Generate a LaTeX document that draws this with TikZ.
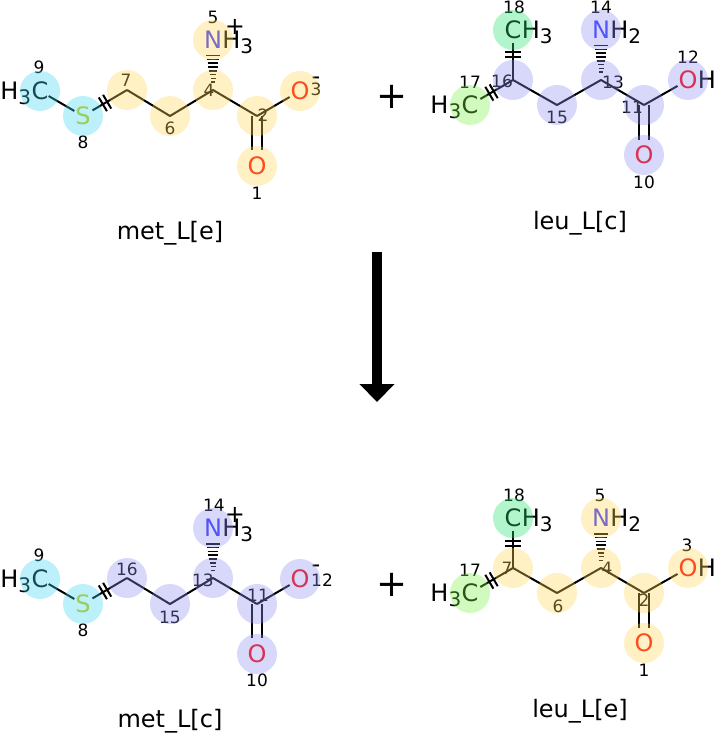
\documentclass[tikz,border=0pt]{standalone}
\usepackage{fontspec}
\setmainfont{DejaVu Sans}
\usetikzlibrary{calc,arrows.meta,decorations.markings}
\definecolor{hY}{RGB}{255,215,86}
\definecolor{hC}{RGB}{64,212,241}
\definecolor{hL}{RGB}{144,144,241}
\definecolor{hM}{RGB}{35,226,112}
\definecolor{hG}{RGB}{121,241,69}
\definecolor{cN}{RGB}{51,51,255}
\definecolor{cO}{RGB}{255,0,0}
\definecolor{cS}{RGB}{204,204,0}
\newcommand{\sbs}[1]{\raisebox{-5pt}{\fontsize{20}{20}\selectfont #1}}
\newcommand{\hashwedge}[2]{%
  \foreach \hi in {0,...,7}{%
    \pgfmathsetmacro{\hd}{7.7+3.8*\hi}%
    \pgfmathsetmacro{\hw}{1.8+0.7*\hi}%
    \coordinate (hh) at ($(#1)!\hd pt!(#2)$);
    \draw[line width=1.6pt] ($(hh)!\hw pt!90:(#2)$) -- ($(hh)!\hw pt!-90:(#2)$);
  }}
\tikzset{
  bond/.style={line width=2pt, line join=round},
  brk/.style={decorate, decoration={markings, mark=at position 0.5 with {\draw[line width=2pt] (-2.5pt,-8pt) -- (-2.5pt,8pt) (2.5pt,-8pt) -- (2.5pt,8pt);}}},
  lbl/.style={inner sep=0pt, font=\fontsize{24}{24}\selectfont},
  num/.style={inner sep=0pt, font=\fontsize{17}{17}\selectfont},
  capt/.style={inner sep=0pt, font=\fontsize{24}{24}\selectfont, anchor=base},
  hl/.style={fill opacity=0.35},
  bigplus/.style={inner sep=0pt, font=\fontsize{37}{37}\selectfont}
}
% methionine skeleton
\newcommand{\metskel}[2]{%
  \coordinate (a9) at (40,91);
  \coordinate (a8) at (83,116);
  \coordinate (a7) at (127,90);
  \coordinate (a6) at (170,116);
  \coordinate (a4) at (213,90);
  \coordinate (a5) at (213,40);
  \coordinate (a2) at (257,116);
  \coordinate (a3) at (300,91);
  \coordinate (a1) at (257,166);
  \draw[bond, shorten <=10pt, shorten >=10pt] (a9) -- (a8);
  \draw[bond, shorten <=11pt] (a8) -- (a7);
  \path[brk] (a8) -- (a7);
  \draw[bond] (a7) -- (a6) -- (a4) -- (a2);
  \draw[bond, shorten >=12pt] (a2) -- (a3);
  \draw[bond, shorten >=16pt] ([xshift=-5pt]a2) -- ([xshift=-5pt]a1);
  \draw[bond, shorten >=16pt] ([xshift=5pt]a2) -- ([xshift=5pt]a1);
  \hashwedge{a4}{a5}
  \node[lbl, anchor=base, text=cN] (t5) at ([yshift=-8.75pt]a5) {N};
  \node[lbl, anchor=base west] (t5h) at (t5.base east) {H\sbs{3}};
  \node[lbl] (t5c) at (235,27) {+};
  \node[lbl, anchor=base, text=cS] (t8) at ([yshift=-8.75pt]a8) {S};
  \node[lbl, anchor=base] (t9) at ([yshift=-8.75pt]a9) {C};
  \node[lbl, anchor=base east] (t9h) at (t9.base west) {H\sbs{3}};
  \node[lbl, anchor=base, text=cO] (t3) at ([yshift=-8.75pt]a3) {O};
  \node[lbl, anchor=base] (t3c) at (316,84.6) {-};
  \node[lbl, anchor=base, text=cO] (t1) at ([yshift=-8.75pt]a1) {O};
  \node[capt] (cap) at (170,239) {#1};
  #2
}
% leucine skeleton
\newcommand{\leuskel}[2]{%
  \coordinate (b17) at (470,105);
  \coordinate (b16) at (513,80);
  \coordinate (b18) at (513,30);
  \coordinate (b15) at (557,105);
  \coordinate (b13) at (601,80);
  \coordinate (b14) at (601,30);
  \coordinate (b11) at (644,105);
  \coordinate (b12) at (688,80);
  \coordinate (b10) at (644,155);
  \draw[bond, shorten <=12pt] (b17) -- (b16);
  \path[brk] (b17) -- (b16);
  \draw[bond, shorten >=13pt] (b16) -- (b18);
  \path[brk] (b16) -- (b18);
  \draw[bond] (b16) -- (b15) -- (b13) -- (b11);
  \draw[bond, shorten >=12pt] (b11) -- (b12);
  \draw[bond, shorten >=15pt] ([xshift=-5pt]b11) -- ([xshift=-5pt]b10);
  \draw[bond, shorten >=15pt] ([xshift=5pt]b11) -- ([xshift=5pt]b10);
  \hashwedge{b13}{b14}
  \node[lbl, anchor=base] (u17) at ([yshift=-8.75pt]b17) {C};
  \node[lbl, anchor=base east] (u17h) at (u17.base west) {H\sbs{3}};
  \node[lbl, anchor=base] (u18) at ([yshift=-8.75pt]b18) {C};
  \node[lbl, anchor=base west] (u18h) at (u18.base east) {H\sbs{3}};
  \node[lbl, anchor=base, text=cN] (u14) at ([yshift=-8.75pt]b14) {N};
  \node[lbl, anchor=base west] (u14h) at (u14.base east) {H\sbs{2}};
  \node[lbl, anchor=base, text=cO] (u12) at ([yshift=-8.75pt]b12) {O};
  \node[lbl, anchor=base west] (u12h) at (u12.base east) {H};
  \node[lbl, anchor=base, text=cO] (u10) at ([yshift=-8.75pt]b10) {O};
  \node[capt] (cap) at (580,229) {#1};
  #2
}
\begin{document}
\begin{tikzpicture}[x=1pt,y=-1pt]
\useasboundingbox (0,0) rectangle (714,733);
% top left: met_L[e]
\begin{scope}[name prefix=tl-]
\metskel{met\_L[e]}{%
  \node[num] (n9) at (39,67) {9};
  \node[num] (n8) at (83,142) {8};
  \node[num] (n7) at (126,80) {7};
  \node[num] (n6) at (170,128) {6};
  \node[num] (n4) at (209,90) {4};
  \node[num] (n5) at (213,17) {5};
  \node[num] (n2) at (263,115) {2};
  \node[num] (n1) at (257,193) {1};
  \node[num] (n3) at (316,89) {3};
  \foreach \a in {a9,a8} \fill[hC,hl] (\a) circle[radius=20];
  \foreach \a in {a7,a6,a4,a5,a2,a3,a1} \fill[hY,hl] (\a) circle[radius=20];
}
\end{scope}
% top right: leu_L[c]
\begin{scope}[name prefix=tr-]
\leuskel{leu\_L[c]}{%
  \node[num] (n18) at (514,7) {18};
  \node[num] (n14) at (601,7) {14};
  \node[num] (n17) at (470,82) {17};
  \node[num] (n16) at (502,81) {16};
  \node[num] (n15) at (557,117) {15};
  \node[num] (n13) at (613,82) {13};
  \node[num] (n11) at (632,107) {11};
  \node[num] (n12) at (688,57) {12};
  \node[num] (n10) at (644,182) {10};
  \fill[hM,hl] (b18) circle[radius=20];
  \fill[hG,hl] (b17) circle[radius=20];
  \foreach \a in {b16,b15,b13,b14,b11,b12,b10} \fill[hL,hl] (\a) circle[radius=20];
}
\end{scope}
% bottom left: met_L[c]
\begin{scope}[name prefix=bl-, shift={(0,488)}]
\metskel{met\_L[c]}{%
  \node[num] (n9) at (39,67) {9};
  \node[num] (n8) at (83,142) {8};
  \node[num] (n16) at (127,81) {16};
  \node[num] (n15) at (170,129) {15};
  \node[num] (n13) at (203,92) {13};
  \node[num] (n14) at (214,17) {14};
  \node[num] (n11) at (258,107) {11};
  \node[num] (n12) at (322,92) {12};
  \node[num] (n10) at (257,192) {10};
  \foreach \a in {a9,a8} \fill[hC,hl] (\a) circle[radius=20];
  \foreach \a in {a7,a6,a4,a5,a2,a3,a1} \fill[hL,hl] (\a) circle[radius=20];
}
\end{scope}
% bottom right: leu_L[e]
\begin{scope}[name prefix=br-, shift={(0,488)}]
\leuskel{leu\_L[e]}{%
  \node[num] (n18) at (514,7) {18};
  \node[num] (n5) at (600,7) {5};
  \node[num] (n17) at (470,82) {17};
  \node[num] (n7) at (507,80) {7};
  \node[num] (n6) at (558,118) {6};
  \node[num] (n4) at (607,80) {4};
  \node[num] (n2) at (644,112) {2};
  \node[num] (n1) at (644,182) {1};
  \node[num] (n3) at (687,57) {3};
  \fill[hM,hl] (b18) circle[radius=20];
  \fill[hG,hl] (b17) circle[radius=20];
  \foreach \a in {b16,b15,b13,b14,b11,b12,b10} \fill[hY,hl] (\a) circle[radius=20];
}
\end{scope}
% plus signs
\node[bigplus] (plusT) at (392,97) {+};
\node[bigplus] (plusB) at (392,585) {+};
% reaction arrow
\coordinate (arrS) at (377,252);
\coordinate (arrE) at (377,402);
\draw[line width=10pt, -{Triangle[width=34pt,length=18pt]}] (arrS) -- (arrE);
\end{tikzpicture}
\end{document}
